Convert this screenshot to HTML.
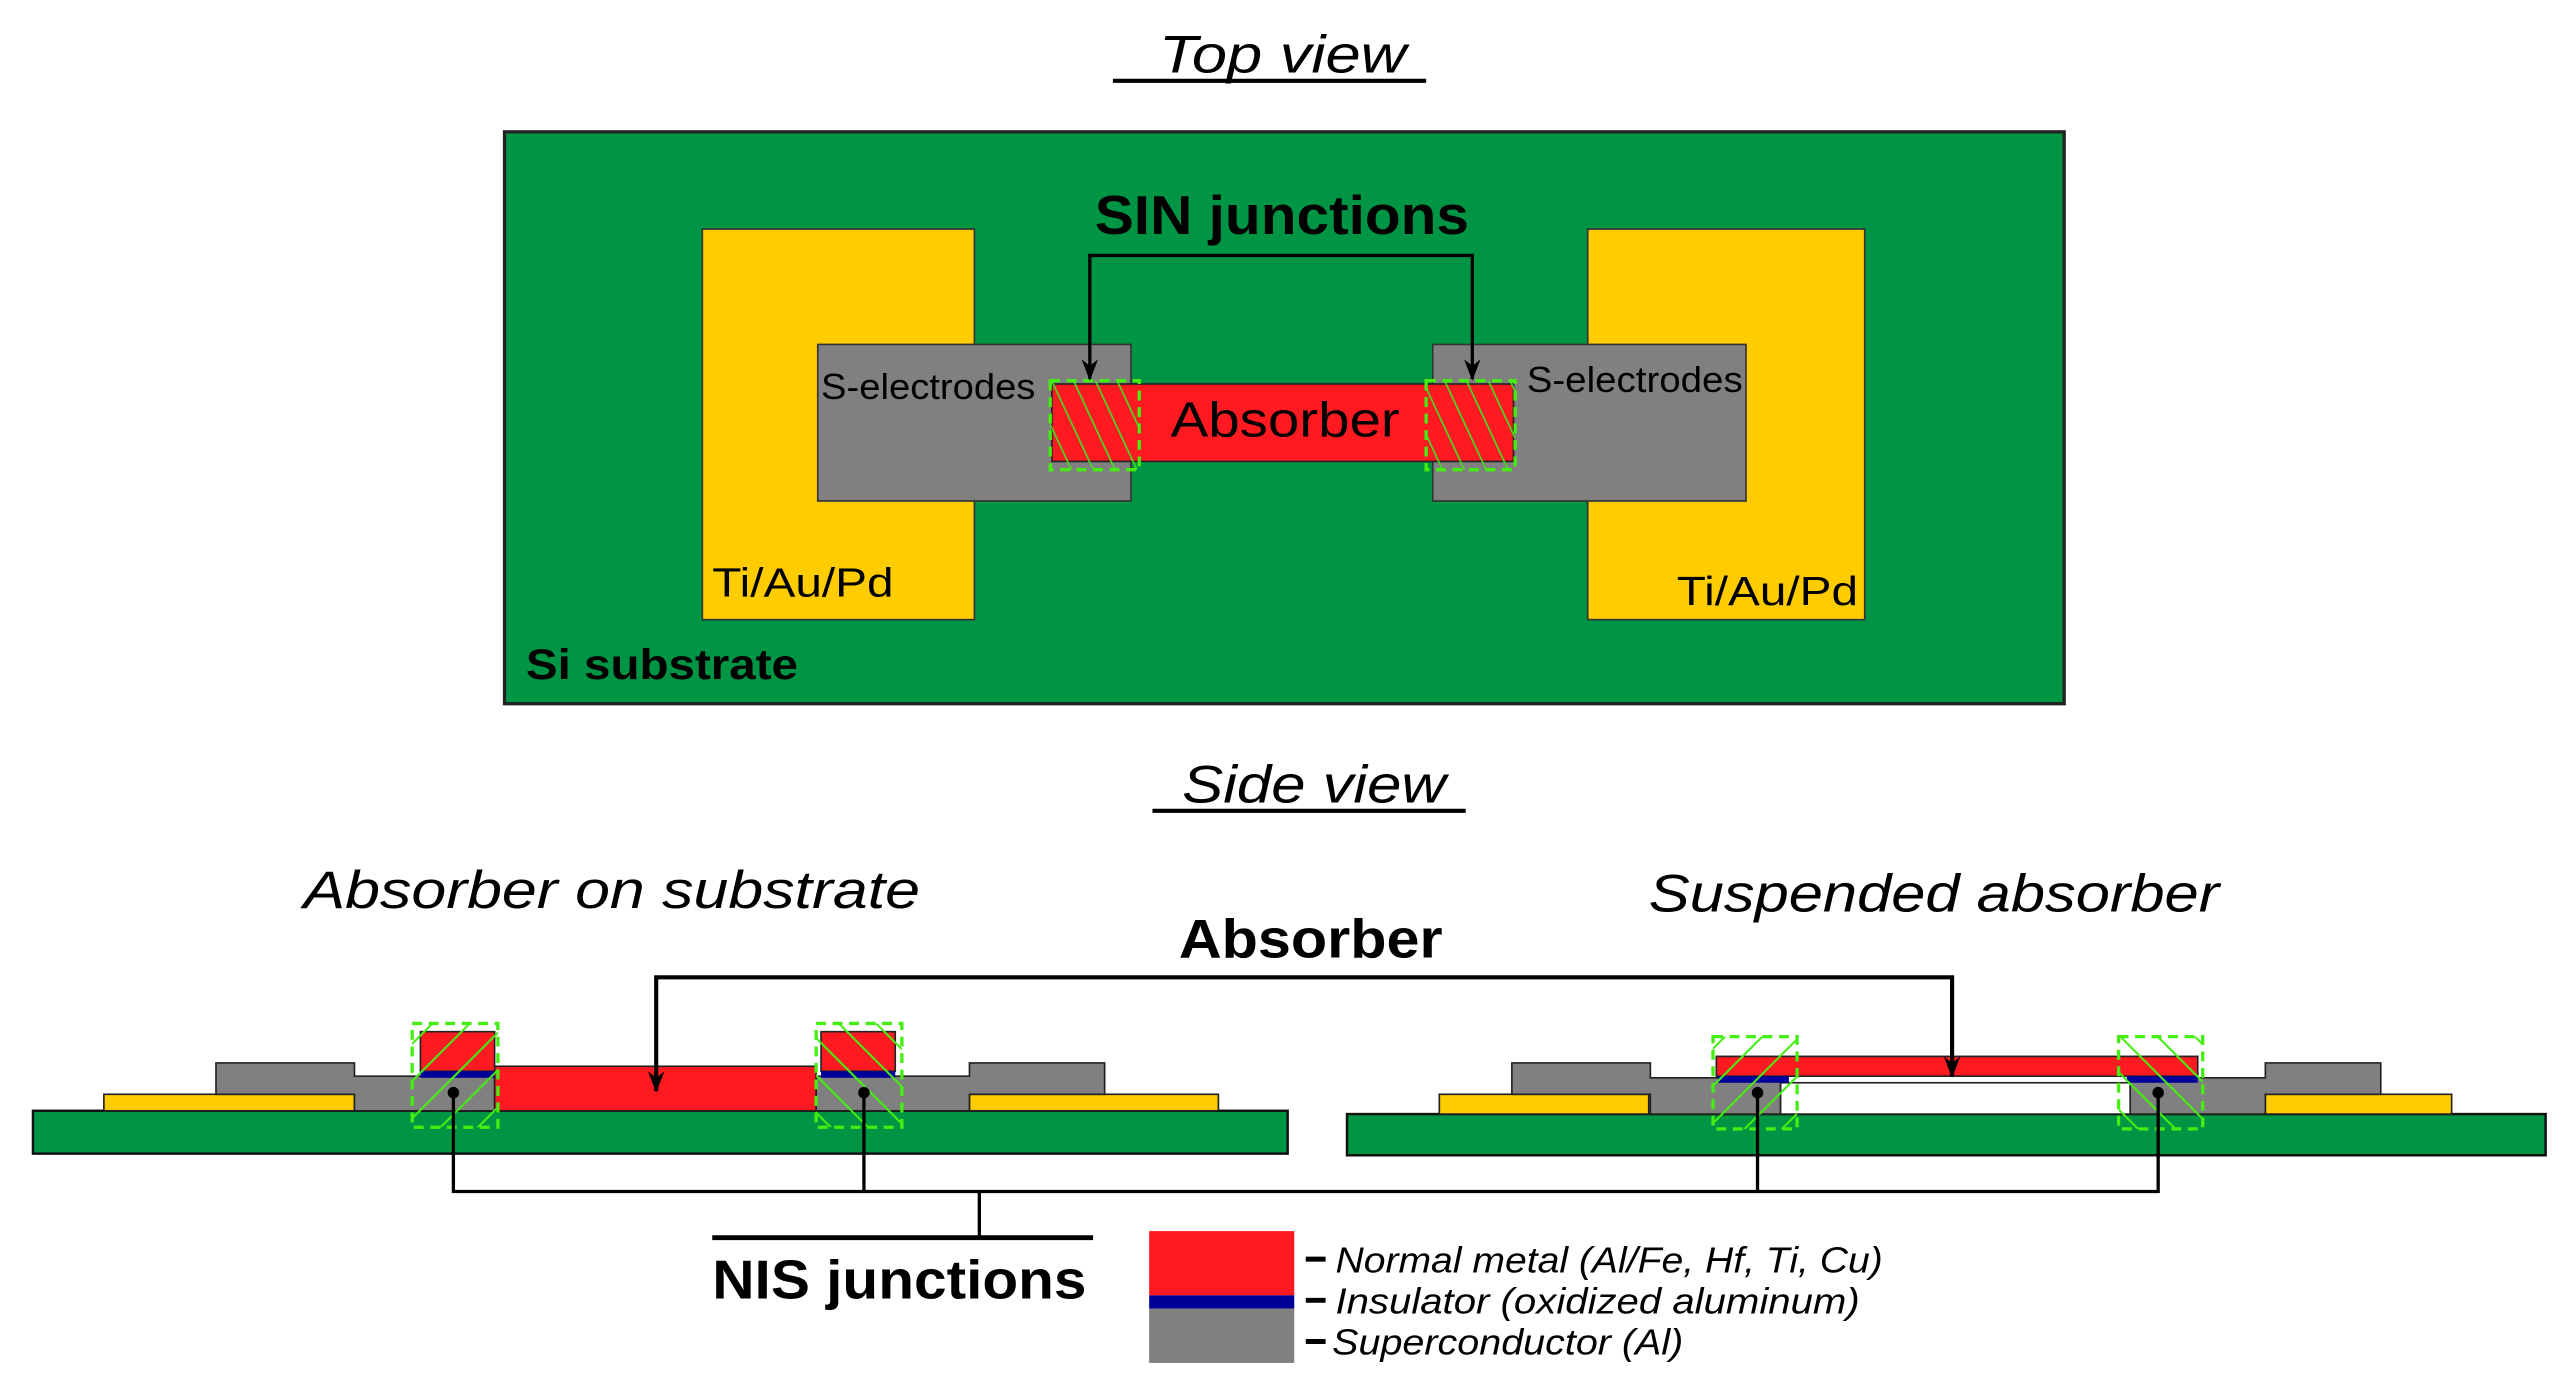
<!DOCTYPE html>
<html><head><meta charset="utf-8"><style>
html,body{margin:0;padding:0;background:#fff;}
svg{display:block;}
text{font-family:"Liberation Sans",sans-serif;}
</style></head><body>
<svg width="2572" height="1386" viewBox="0 0 1560 841" preserveAspectRatio="none" xmlns="http://www.w3.org/2000/svg">
<defs>
<pattern id="hb" patternUnits="userSpaceOnUse" width="12" height="12" patternTransform="rotate(-25)">
<line x1="0" y1="0" x2="0" y2="12" stroke="#44dd22" stroke-width="2"/></pattern>
<pattern id="hf" patternUnits="userSpaceOnUse" width="16" height="16" patternTransform="rotate(45)">
<line x1="0" y1="0" x2="0" y2="16" stroke="#44ee11" stroke-width="2.5"/></pattern>
<pattern id="hs" patternUnits="userSpaceOnUse" width="16" height="16" patternTransform="rotate(-45)">
<line x1="0" y1="0" x2="0" y2="16" stroke="#44ee11" stroke-width="2.5"/></pattern>
<marker id="ar" markerWidth="14" markerHeight="12" refX="12" refY="5" orient="auto-start-reverse" markerUnits="userSpaceOnUse">
<path d="M0,0 L4,5 L0,10 L13,5 Z" fill="#000"/></marker>
</defs>

<!-- TOP VIEW -->
<text x="703" y="44" font-size="32" font-style="italic" textLength="150" lengthAdjust="spacingAndGlyphs">Top view</text>
<line x1="675" y1="49" x2="865" y2="49" stroke="#000" stroke-width="2.5"/>
<rect x="306" y="80" width="946" height="347" fill="#009544" stroke="#222" stroke-width="2"/>
<rect x="426" y="139" width="165" height="237" fill="#ffcc00" stroke="#333" stroke-width="1"/>
<rect x="963" y="139" width="168" height="237" fill="#ffcc00" stroke="#333" stroke-width="1"/>
<rect x="496" y="209" width="190" height="95" fill="#808080" stroke="#333" stroke-width="1"/>
<rect x="869" y="209" width="190" height="95" fill="#808080" stroke="#333" stroke-width="1"/>
<rect x="638" y="233" width="280" height="47" fill="#ff1a22" stroke="#222" stroke-width="1"/>
<rect x="637" y="231" width="54" height="54" fill="url(#hb)" stroke="#44ee11" stroke-width="2" stroke-dasharray="6,4"/>
<rect x="865" y="231" width="54" height="54" fill="url(#hb)" stroke="#44ee11" stroke-width="2" stroke-dasharray="6,4"/>
<text x="664" y="142" font-size="33" font-weight="bold" textLength="227" lengthAdjust="spacingAndGlyphs">SIN junctions</text>
<path d="M661,230 V155 H893 V230" fill="none" stroke="#000" stroke-width="2" marker-start="url(#ar)" marker-end="url(#ar)"/>
<text x="498" y="242" font-size="22" textLength="130" lengthAdjust="spacingAndGlyphs">S-electrodes</text>
<text x="926" y="238" font-size="22" textLength="131" lengthAdjust="spacingAndGlyphs">S-electrodes</text>
<text x="710" y="265" font-size="30" textLength="139" lengthAdjust="spacingAndGlyphs">Absorber</text>
<text x="432" y="362" font-size="25" textLength="110" lengthAdjust="spacingAndGlyphs">Ti/Au/Pd</text>
<text x="1017" y="367" font-size="25" textLength="110" lengthAdjust="spacingAndGlyphs">Ti/Au/Pd</text>
<text x="319" y="412" font-size="26" font-weight="bold" textLength="165" lengthAdjust="spacingAndGlyphs">Si substrate</text>

<!-- SIDE VIEW -->
<text x="717" y="487" font-size="32" font-style="italic" textLength="160" lengthAdjust="spacingAndGlyphs">Side view</text>
<line x1="699" y1="492" x2="889" y2="492" stroke="#000" stroke-width="2.5"/>
<text x="184" y="551" font-size="32" font-style="italic" textLength="374" lengthAdjust="spacingAndGlyphs">Absorber on substrate</text>
<text x="1000" y="553" font-size="32" font-style="italic" textLength="346" lengthAdjust="spacingAndGlyphs">Suspended absorber</text>
<text x="715" y="581" font-size="33" font-weight="bold" textLength="160" lengthAdjust="spacingAndGlyphs">Absorber</text>

<!-- left cross-section -->
<rect x="20" y="674" width="761" height="26" fill="#009544" stroke="#111" stroke-width="1.5"/>
<rect x="63" y="664" width="152" height="10" fill="#ffcc00" stroke="#222" stroke-width="1"/>
<rect x="588" y="664" width="151" height="10" fill="#ffcc00" stroke="#222" stroke-width="1"/>
<path d="M131,664 V645 H215 V653 H300 V674 H215 V664 Z" fill="#808080" stroke="#222" stroke-width="1"/>
<path d="M670,664 V645 H588 V653 H495 V674 H588 V664 Z" fill="#808080" stroke="#222" stroke-width="1"/>
<rect x="300" y="647" width="195" height="27" fill="#ff1a22" stroke="#222" stroke-width="1"/>
<rect x="255" y="626" width="45" height="24" fill="#ff1a22" stroke="#222" stroke-width="1"/>
<rect x="255" y="650" width="45" height="4" fill="#000099"/>
<rect x="498" y="626" width="45" height="24" fill="#ff1a22" stroke="#222" stroke-width="1"/>
<rect x="498" y="650" width="45" height="4" fill="#000099"/>
<rect x="250" y="621" width="52" height="63" fill="url(#hf)" stroke="#44ee11" stroke-width="2" stroke-dasharray="6,4"/>
<rect x="495" y="621" width="52" height="63" fill="url(#hs)" stroke="#44ee11" stroke-width="2" stroke-dasharray="6,4"/>

<!-- right cross-section -->
<rect x="817" y="676" width="727" height="25" fill="#009544" stroke="#111" stroke-width="1.5"/>
<rect x="873" y="664" width="127" height="12" fill="#ffcc00" stroke="#222" stroke-width="1"/>
<rect x="1374" y="664" width="113" height="12" fill="#ffcc00" stroke="#222" stroke-width="1"/>
<path d="M917,664 V645 H1001 V654 H1080 V676 H1001 V664 Z" fill="#808080" stroke="#222" stroke-width="1"/>
<path d="M1444,664 V645 H1374 V654 H1292 V676 H1374 V664 Z" fill="#808080" stroke="#222" stroke-width="1"/>
<rect x="1080" y="657" width="212" height="19" fill="#fff" stroke="#222" stroke-width="1"/>
<rect x="1041" y="641" width="292" height="12" fill="#ff1a22" stroke="#222" stroke-width="1"/>
<rect x="1042" y="653" width="43" height="4" fill="#000099"/>
<rect x="1290" y="653" width="43" height="4" fill="#000099"/>
<rect x="1039" y="629" width="51" height="56" fill="url(#hf)" stroke="#44ee11" stroke-width="2" stroke-dasharray="6,4"/>
<rect x="1285" y="629" width="51" height="56" fill="url(#hs)" stroke="#44ee11" stroke-width="2" stroke-dasharray="6,4"/>

<!-- absorber bracket -->
<path d="M398,662 V593 H1184 V653" fill="none" stroke="#000" stroke-width="2.5" marker-start="url(#ar)" marker-end="url(#ar)"/>

<!-- NIS bracket -->
<g stroke="#000" stroke-width="2" fill="none">
<path d="M275,662 V723 H1309 V662"/>
<path d="M524,662 V723"/>
<path d="M1066,662 V723"/>
<path d="M594,723 V751"/>
<line x1="432" y1="751" x2="663" y2="751" stroke-width="3"/>
</g>
<circle cx="275" cy="663" r="3.5"/><circle cx="524" cy="663" r="3.5"/>
<circle cx="1066" cy="663" r="3.5"/><circle cx="1309" cy="663" r="3.5"/>
<text x="432" y="788" font-size="33" font-weight="bold" textLength="227" lengthAdjust="spacingAndGlyphs">NIS junctions</text>

<!-- legend -->
<rect x="697" y="747" width="88" height="39" fill="#ff1a22"/>
<rect x="697" y="786" width="88" height="8" fill="#000099"/>
<rect x="697" y="794" width="88" height="33" fill="#808080"/>
<g stroke="#000" stroke-width="3">
<line x1="792" y1="764" x2="804" y2="764"/>
<line x1="792" y1="789" x2="804" y2="789"/>
<line x1="792" y1="814" x2="804" y2="814"/>
</g>
<text x="810" y="772" font-size="22" font-style="italic" textLength="332" lengthAdjust="spacingAndGlyphs">Normal metal (Al/Fe, Hf, Ti, Cu)</text>
<text x="810" y="797" font-size="22" font-style="italic" textLength="318" lengthAdjust="spacingAndGlyphs">Insulator (oxidized aluminum)</text>
<text x="808" y="822" font-size="22" font-style="italic" textLength="213" lengthAdjust="spacingAndGlyphs">Superconductor (Al)</text>
</svg>
</body></html>
